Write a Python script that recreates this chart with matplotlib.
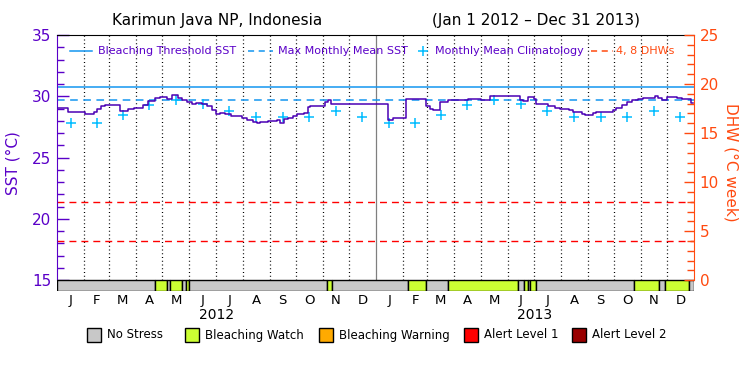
import matplotlib
matplotlib.use('Agg')
import matplotlib.pyplot as plt
import matplotlib.dates as mdates
import matplotlib.transforms as mtrans
from matplotlib.lines import Line2D
from matplotlib.patches import Rectangle
import datetime as dt

# ---------------- data ----------------
sst_dates = ['2012-01-01', '2012-01-14', '2012-02-02', '2012-02-12', '2012-02-16', '2012-02-21',
             '2012-02-25', '2012-03-13', '2012-03-23', '2012-03-29', '2012-04-09', '2012-04-15',
             '2012-04-22', '2012-04-28', '2012-05-06', '2012-05-12', '2012-05-19', '2012-05-23',
             '2012-05-29', '2012-06-04', '2012-06-09', '2012-06-15', '2012-06-21', '2012-06-27',
             '2012-07-02', '2012-07-06', '2012-07-12', '2012-07-19', '2012-07-31', '2012-08-06',
             '2012-08-13', '2012-08-17', '2012-08-21', '2012-08-25', '2012-08-30', '2012-09-09',
             '2012-09-13', '2012-09-17', '2012-09-22', '2012-09-28', '2012-10-02', '2012-10-10',
             '2012-10-15', '2012-10-17', '2012-11-04', '2012-11-07', '2012-11-11', '2012-11-13',
             '2013-01-15', '2013-01-19', '2013-01-21', '2013-01-25', '2013-02-05', '2013-02-09',
             '2013-02-28', '2013-03-04', '2013-03-08', '2013-03-16', '2013-03-25', '2013-04-17',
             '2013-05-02', '2013-05-12', '2013-06-15', '2013-06-19', '2013-06-25', '2013-07-01',
             '2013-07-04', '2013-07-18', '2013-07-25', '2013-07-31', '2013-08-10', '2013-08-15',
             '2013-08-25', '2013-08-29', '2013-09-07', '2013-09-11', '2013-09-30', '2013-10-04',
             '2013-10-10', '2013-10-16', '2013-10-22', '2013-10-29', '2013-11-04', '2013-11-17',
             '2013-11-21', '2013-11-25', '2013-12-01', '2013-12-12', '2013-12-18', '2013-12-28']
sst_values = [29.07, 28.70, 28.52, 28.75, 28.96, 29.20,
              29.29, 28.80, 29.00, 29.07, 29.30, 29.60,
              29.83, 29.97, 29.80, 30.10, 29.90, 29.70,
              29.56, 29.40, 29.45, 29.40, 29.20, 28.85,
              28.58, 28.65, 28.58, 28.42, 28.20, 28.09,
              27.87, 27.79, 27.90, 27.93, 27.98, 28.04,
              27.85, 28.14, 28.25, 28.40, 28.58, 28.63,
              29.10, 29.20, 29.56, 29.73, 29.40, 29.34,
              28.10, 28.06, 28.20, 28.25, 29.75, 29.81,
              29.20, 29.00, 28.85, 29.56, 29.73, 29.78,
              29.73, 30.03, 29.70, 29.60, 29.95, 29.78,
              29.34, 29.20, 29.07, 28.93, 28.85, 28.75,
              28.52, 28.47, 28.65, 28.75, 28.90, 29.07,
              29.30, 29.56, 29.73, 29.78, 29.84, 30.03,
              29.90, 29.68, 29.95, 29.84, 29.75, 29.45]

clim_values = [27.84, 27.84, 28.47, 29.28, 29.73, 29.34, 28.77, 28.33, 28.33, 28.33, 28.77, 28.33]
mmm_sst = 29.73
threshold_sst = 30.73
dhw_lines = [4, 8]

stress_starts = ['2012-01-01', '2012-04-23', '2012-05-06', '2012-05-10', '2012-05-24', '2012-05-28',
                 '2012-05-31', '2012-11-06', '2012-11-12', '2013-02-07', '2013-02-27', '2013-03-25',
                 '2013-06-13', '2013-06-20', '2013-06-25', '2013-06-27', '2013-07-04', '2013-10-24',
                 '2013-11-22', '2013-11-29', '2013-12-26']
stress_levels = [0, 1, 0, 1, 0, 1,
                 0, 1, 0, 1, 0, 1,
                 0, 1, 0, 1, 0, 1,
                 0, 1, 0]
stress_labels = ['No Stress', 'Bleaching Watch', 'Bleaching Warning', 'Alert Level 1', 'Alert Level 2']
stress_colors = ['#c8c8c8', '#ccff33', '#ffaa00', '#ff0000', '#990000']

month_letters = ['J', 'F', 'M', 'A', 'M', 'J', 'J', 'A', 'S', 'O', 'N', 'D']
years = [2012, 2013]

title_left = 'Karimun Java NP, Indonesia'
title_right = '(Jan 1 2012 \u2013 Dec 31 2013)'

# ---------------- style ----------------
PURPLE = '#5a00c8'
LINE_PURPLE = '#4a00b4'
ORANGE = '#ff4a10'
BLUE = '#1496f0'
CYAN = '#00bcff'
plt.rcParams['font.family'] = ['DejaVu Sans']

fig = plt.figure(figsize=(7.5, 3.75), dpi=100)
ax = fig.add_axes([57/750, 1-290.5/375, (694-57)/750, (290.5-35)/375])

start = dt.datetime(2012, 1, 1)
end = dt.datetime(2014, 1, 1)
bar_bottom = 14.16
ax.set_xlim(start, end)
ax.set_ylim(bar_bottom, 35)

# month boundaries / centers
month_starts = []
for y in years:
    for m in range(1, 13):
        month_starts.append(dt.datetime(y, m, 1))
month_starts.append(end)
month_mids = [month_starts[i] + (month_starts[i+1] - month_starts[i]) / 2 for i in range(24)]

# dotted month lines
for d in month_starts[1:-1]:
    if d.month == 1:
        ax.vlines(d, 15, 35, colors='black', lw=0.9, linestyles=(0, (0.8, 0.8)), zorder=1)
    else:
        ax.vlines(d, 15, 35, colors='black', lw=0.9, linestyles=(0, (0.8, 2.2)), zorder=1)

# threshold / MMM lines
ax.axhline(threshold_sst, color=BLUE, lw=1.1, zorder=2)
ax.axhline(mmm_sst, color=BLUE, lw=1.1, ls=(0, (5, 3.6)), zorder=2)
for dh in dhw_lines:
    ax.axhline(15 + dh / 1.25, color='#ff0000', lw=1.0, ls=(0, (5, 3.6)), zorder=2)

# climatology crosses
clim_x = month_mids
clim_y = clim_values * len(years)
ax.plot(clim_x, clim_y, ls='none', marker='+', ms=7, mew=1.1, color=CYAN, zorder=3)

# SST line
sx = [dt.datetime.strptime(s, '%Y-%m-%d') for s in sst_dates] + [dt.datetime(2013, 12, 31)]
sy = sst_values + [sst_values[-1]]
ax.plot(sx, sy, drawstyle='steps-post', color=LINE_PURPLE, lw=1.1, zorder=4)

# stress bar
st = [dt.datetime.strptime(s, '%Y-%m-%d') for s in stress_starts] + [end]
lefts = [mdates.date2num(d) for d in st[:-1]]
widths = [mdates.date2num(st[i+1]) - mdates.date2num(st[i]) for i in range(len(st)-1)]
ax.barh([(bar_bottom + 15) / 2] * len(lefts), widths, left=lefts, height=15 - bar_bottom,
        color=[stress_colors[l] for l in stress_levels], edgecolor='black', lw=1.0, zorder=5)

# spines and ticks
ax.spines['bottom'].set_visible(False)
ax.spines['top'].set_color('black')
ax.spines['left'].set_color(PURPLE)
ax.spines['left'].set_bounds(15, 35)
ax.spines['right'].set_visible(False)
ax.set_yticks([15, 20, 25, 30, 35])
ax.set_yticks(range(16, 35), minor=True)
ax.tick_params(axis='y', which='major', direction='in', length=8.5, width=1.0, color=PURPLE,
               labelcolor=PURPLE, labelsize=11, pad=4)
ax.tick_params(axis='y', which='minor', direction='in', length=5, width=1.0, color=PURPLE)
ax.set_xticks(month_mids)
ax.set_xticklabels(month_letters * len(years))
ax.tick_params(axis='x', length=0, labelsize=9.5, pad=2.5, labelcolor='black')
ax.set_ylabel('SST (\u00b0C)', color=PURPLE, fontsize=11, labelpad=8)

trans = mtrans.blended_transform_factory(ax.transData, fig.transFigure)
for y in years:
    mid = dt.datetime(y, 1, 1) + (dt.datetime(y + 1, 1, 1) - dt.datetime(y, 1, 1)) / 2
    ax.text(mid, 1 - 315/375, str(y), transform=trans, ha='center', va='center', fontsize=10)

ax2 = ax.twinx()
ax2.set_ylim((bar_bottom - 15) * 1.25, 25)
ax2.spines['right'].set_color(ORANGE)
ax2.spines['right'].set_bounds(0, 25)
for s in ['top', 'bottom', 'left']:
    ax2.spines[s].set_visible(False)
ax2.set_yticks([0, 5, 10, 15, 20, 25])
ax2.set_yticks(range(1, 25), minor=True)
ax2.tick_params(axis='y', which='major', direction='in', length=7, width=1.0, color=ORANGE,
                labelcolor=ORANGE, labelsize=11, pad=4)
ax2.tick_params(axis='y', which='minor', direction='in', length=5, width=1.0, color=ORANGE)
ax2.set_ylabel('DHW (\u00b0C week)', color=ORANGE, fontsize=11, rotation=270, labelpad=14)

# title
fig.text(112/750, 1 - 20/375, title_left, fontsize=11, ha='left', va='center')
fig.text(640/750, 1 - 20/375, title_right, fontsize=11, ha='right', va='center')

# top legend
ly = 1 - 51/375
fs = 8
def fx(px):
    return px / 750
fig.add_artist(Line2D([fx(70), fx(92)], [ly, ly], color=BLUE, lw=1.1))
fig.text(fx(98), ly, 'Bleaching Threshold SST', color=PURPLE, fontsize=fs, va='center')
fig.add_artist(Line2D([fx(248), fx(273)], [ly, ly], color=BLUE, lw=1.1, ls=(0, (4, 3))))
fig.text(fx(278), ly, 'Max Monthly Mean SST', color=PURPLE, fontsize=fs, va='center')
fig.add_artist(Line2D([fx(423)], [ly], color=CYAN, marker='+', ms=7, mew=1.1, ls='none'))
fig.text(fx(435), ly, 'Monthly Mean Climatology', color=PURPLE, fontsize=fs, va='center')
fig.add_artist(Line2D([fx(591), fx(613)], [ly, ly], color=ORANGE, lw=1.1, ls=(0, (4, 3))))
fig.text(fx(616), ly, '4, 8 DHWs', color=ORANGE, fontsize=fs, va='center')

# bottom legend
sq_x = [87, 185, 319, 464, 572]
for i, lab in enumerate(stress_labels):
    fig.add_artist(Rectangle((fx(sq_x[i]), 1 - 342/375), 14/750, 14/375, facecolor=stress_colors[i],
                             edgecolor='black', lw=1.0, transform=fig.transFigure))
    fig.text(fx(sq_x[i] + 20), 1 - 335/375, lab, fontsize=8.5, va='center', ha='left')

fig.savefig('out.png', dpi=100)
